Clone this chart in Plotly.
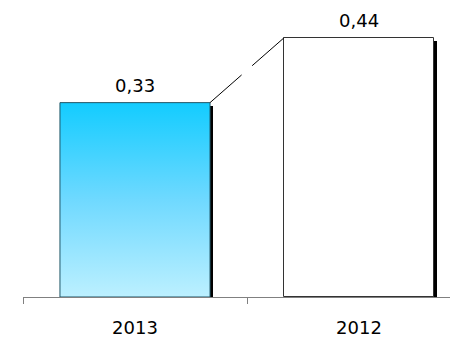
import plotly.graph_objects as go

categories = ["2013", "2012"]
values = [0.33, 0.44]
value_labels = ["0,33", "0,44"]

BAR_W = 0.67
PX_PER_X = 224.0      # pixels per category unit
PX_PER_Y = 589.0      # pixels per value unit
xs = list(range(len(categories)))

fig = go.Figure()

# drop shadows (thick dark right edge)
fig.add_trace(go.Bar(
    x=xs, y=[v - 3 / PX_PER_Y for v in values],
    width=BAR_W, offset=-BAR_W / 2 + 3 / PX_PER_X,
    marker=dict(color="#000000", line=dict(width=0)),
    hoverinfo="skip", showlegend=False))

# 2012 bar (white)
fig.add_trace(go.Bar(
    x=[xs[1]], y=[values[1]], width=BAR_W,
    marker=dict(color="#ffffff", line=dict(color="#333333", width=1)),
    showlegend=False, name=categories[1]))

# 2013 bar with vertical gradient
x0 = xs[0] - BAR_W / 2
x1 = xs[0] + BAR_W / 2
fig.add_trace(go.Scatter(
    x=[x0, x1, x1, x0, x0], y=[0, 0, values[0], values[0], 0],
    mode="lines", fill="toself",
    fillgradient=dict(type="vertical",
                      colorscale=[[0, "#bcf0ff"], [0.5, "#6fd9ff"], [1, "#13ccff"]]),
    line=dict(color="#1f5566", width=1),
    showlegend=False, name=categories[0]))

# connector
fig.add_trace(go.Scatter(
    x=[xs[0] + BAR_W / 2, xs[1] - BAR_W / 2], y=[values[0], values[1]],
    mode="lines", line=dict(color="#000000", width=1, dash="42px,14px"),
    hoverinfo="skip", showlegend=False))

for x, v, t in zip(xs, values, value_labels):
    fig.add_annotation(x=x, y=v, text=t, showarrow=False, yanchor="bottom",
                       yshift=5, font=dict(family="DejaVu Sans", size=18, color="#000"))

fig.update_layout(
    width=450, height=337,
    margin=dict(l=23, r=0, t=10, b=40, autoexpand=False),
    paper_bgcolor="white", plot_bgcolor="white",
    barmode="overlay", bargap=0,
    xaxis=dict(range=[-0.5, -0.5 + 427 / PX_PER_X],
               tickvals=xs, ticktext=categories, ticks="", ticklen=0,
               ticklabelstandoff=14, automargin=False,
               showgrid=False, zeroline=False,
               showline=True, linecolor="#808080", linewidth=1,
               tickfont=dict(family="DejaVu Sans", size=18, color="#000"),
               minor=dict(tickmode="array", tickvals=[-0.5, 0.5, 1.5], ticks="outside",
                          ticklen=6, tickcolor="#808080", tickwidth=1, showgrid=False),
               fixedrange=True),
    yaxis=dict(range=[0, 287 / PX_PER_Y], visible=False, showgrid=False,
               zeroline=False, fixedrange=True, automargin=False),
)

fig.write_html("out.html")
